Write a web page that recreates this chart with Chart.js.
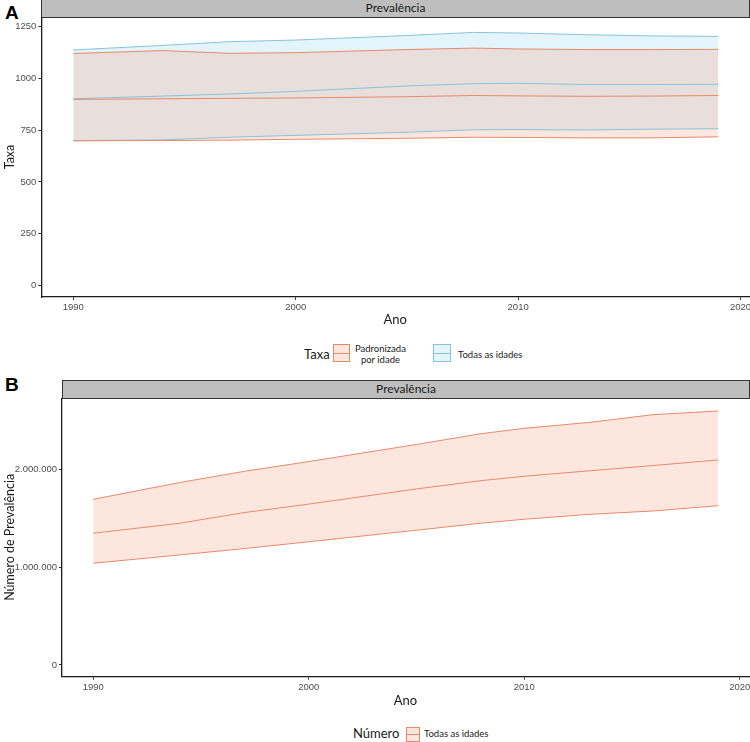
<!DOCTYPE html>
<html><head><meta charset="utf-8">
<script src="https://cdn.jsdelivr.net/npm/chart.js@4.4.1/dist/chart.umd.min.js"></script>
<style>
body{margin:0;width:750px;height:742px;background:#fff;position:relative;overflow:hidden;font-family:Lato,"Open Sans",sans-serif;color:#1a1a1a;}
.abs{position:absolute;}
.tag{font-family:"Liberation Sans",Arial,sans-serif;font-weight:bold;font-size:19px;color:#000;line-height:1;}
.strip{background:#BEBEBE;border:1.5px solid #333;box-sizing:border-box;text-align:center;font-size:12px;color:#1a1a1a;}
.key{box-sizing:border-box;border:1px solid;}
.key i{position:absolute;left:0;right:0;top:50%;height:1px;margin-top:-0.5px;}
.lt{font-size:13px;}
.ls{font-size:9.5px;line-height:11px;}
</style></head><body>
<div class="abs tag" style="left:5px;top:3px;">A</div>
<div class="abs strip" style="left:41px;top:-1px;width:709px;height:19px;line-height:16px;">Prevalência</div>
<div class="abs" style="left:0;top:17px;width:750px;height:315px;"><canvas id="cA" width="750" height="315"></canvas></div>

<div class="abs lt" style="left:304px;top:346px;">Taxa</div>
<div class="abs key" style="left:333px;top:344px;width:17px;height:18px;border-color:#E8896A;background:rgba(244,128,90,0.2);"><i style="background:#E8896A"></i></div>
<div class="abs ls" style="left:355px;top:343px;text-align:center;">Padronizada<br>por idade</div>
<div class="abs key" style="left:433px;top:344px;width:18px;height:18px;border-color:#86C3DC;background:rgba(120,200,235,0.2);"><i style="background:#86C3DC"></i></div>
<div class="abs ls" style="left:458px;top:349px;">Todas as idades</div>

<div class="abs tag" style="left:5px;top:375px;">B</div>
<div class="abs strip" style="left:62px;top:380px;width:688px;height:19px;line-height:16px;">Prevalência</div>
<div class="abs" style="left:0;top:398px;width:750px;height:315px;"><canvas id="cB" width="750" height="315"></canvas></div>

<div class="abs lt" style="left:353px;top:725px;">Número</div>
<div class="abs key" style="left:406px;top:727px;width:14px;height:15px;border-color:#E8896A;background:rgba(244,128,90,0.2);"><i style="background:#E8896A"></i></div>
<div class="abs ls" style="left:424px;top:728px;">Todas as idades</div>

<script>
// ---- Data ----
const years = [1990, 1994, 1997, 2000, 2005, 2008, 2010, 2013, 2016, 2019];
const xTicks = [1990, 2000, 2010, 2020];

// Panel A: Taxa (rate)
const padLower = [699, 700, 702, 706, 711, 716, 715, 713, 713, 718];
const padMean  = [899, 902, 904, 906, 912, 918, 916, 914, 915, 918];
const padUpper = [1121, 1135, 1122, 1125, 1140, 1147, 1143, 1140, 1140, 1141];
const todLower = [699, 703, 716, 725, 740, 752, 753, 751, 755, 757];
const todMean  = [902, 915, 925, 938, 964, 975, 977, 971, 971, 972];
const todUpper = [1138, 1160, 1178, 1186, 1208, 1223, 1220, 1212, 1206, 1204];
const yTicksA = [0, 250, 500, 750, 1000, 1250];

// Panel B: Número
const numLower = [1040000, 1125000, 1190000, 1260000, 1378000, 1450000, 1490000, 1540000, 1575000, 1629000];
const numMean  = [1347000, 1449000, 1558000, 1645000, 1800000, 1885000, 1930000, 1985000, 2040000, 2096000];
const numUpper = [1694000, 1865000, 1980000, 2080000, 2255000, 2365000, 2420000, 2480000, 2560000, 2597000];
const yTicksB = [0, 1000000, 2000000];
const yTickLabelsB = ['0', '1.000.000', '2.000.000'];

// ---- Styles ----
const ORANGE = '#E8896A', ORANGE_FILL = 'rgba(244,128,90,0.2)';
const BLUE = '#86C3DC', BLUE_FILL = 'rgba(120,200,235,0.2)';

function pts(vals){ return years.map((y,i)=>({x:y, y:vals[i]})); }
function ds(vals, color, fill, bg){
  return {data: pts(vals), borderColor: color, borderWidth: 1, pointRadius: 0, tension: 0,
          fill: fill, backgroundColor: bg || 'transparent'};
}
function fixY(w){ return s=>{ s.width=w; s.paddingTop=0; s.paddingBottom=0; s.paddingLeft=0; s.paddingRight=0; }; }
function fixX(h){ return s=>{ s.height=h; s.paddingTop=0; s.paddingBottom=0; s.paddingLeft=0; s.paddingRight=0; }; }
const tickFont = {family: '"Liberation Sans", Arial, sans-serif', size: 9.5};
const titleFont = {family: 'Lato, "Open Sans", sans-serif', size: 12.5};

function makeOptions(cfg){
  return {
    responsive: false, animation: false,
    layout: {padding: {left: 0, right: 1, top: 0, bottom: 0}},
    plugins: {legend: {display: false}, tooltip: {enabled: false}, filler: {drawTime: 'beforeDatasetsDraw'}},
    scales: {
      x: {type: 'linear', min: cfg.xmin, max: cfg.xmax,
          afterBuildTicks: s=>{ s.ticks = xTicks.map(v=>({value: v})); },
          afterFit: fixX(cfg.xh),
          ticks: {autoSkip: false, maxRotation: 0, color: '#4D4D4D', font: tickFont, padding: 2, callback: v=>String(v)},
          grid: {drawOnChartArea: false, drawTicks: true, tickLength: 3, color: '#333'},
          border: {display: true, color: '#1a1a1a', width: 1.3},
          title: {display: true, text: 'Ano', color: '#1a1a1a', font: {family: titleFont.family, size: 13}, padding: {top: 2, bottom: 4}}},
      y: {type: 'linear', min: cfg.ymin, max: cfg.ymax,
          afterBuildTicks: s=>{ s.ticks = cfg.yticks.map(v=>({value: v})); },
          afterFit: fixY(cfg.yw),
          ticks: {autoSkip: false, color: '#4D4D4D', font: tickFont, padding: 2, callback: cfg.ylab},
          grid: {drawOnChartArea: false, drawTicks: true, tickLength: 3, color: '#333'},
          border: {display: true, color: '#1a1a1a', width: 1.3},
          title: {display: true, text: cfg.ytitle, color: '#1a1a1a', font: titleFont, padding: {top: 2, bottom: 2}}}
    }
  };
}

new Chart(document.getElementById('cA'), {
  type: 'line',
  data: {datasets: [
    ds(padLower, ORANGE, false),
    ds(padUpper, ORANGE, '-1', ORANGE_FILL),
    ds(padMean, ORANGE, false),
    ds(todLower, BLUE, false),
    ds(todUpper, BLUE, '-1', BLUE_FILL),
    ds(todMean, BLUE, false)
  ]},
  options: makeOptions({xmin: 1988.56, xmax: 2020.38, xh: 35, ymin: -56.6, ymax: 1297.5, yw: 41.3,
    yticks: yTicksA, ylab: v=>String(v), ytitle: 'Taxa'})
});

new Chart(document.getElementById('cB'), {
  type: 'line',
  data: {datasets: [
    ds(numLower, ORANGE, false),
    ds(numUpper, ORANGE, '-1', ORANGE_FILL),
    ds(numMean, ORANGE, false)
  ]},
  options: makeOptions({xmin: 1988.55, xmax: 2020.43, xh: 36.3, ymin: -120000, ymax: 2730000, yw: 62,
    yticks: yTicksB, ylab: v=>{ const i = yTicksB.indexOf(v); return i>=0 ? yTickLabelsB[i] : ''; }, ytitle: 'Número de Prevalência'})
});
</script>
</body></html>
